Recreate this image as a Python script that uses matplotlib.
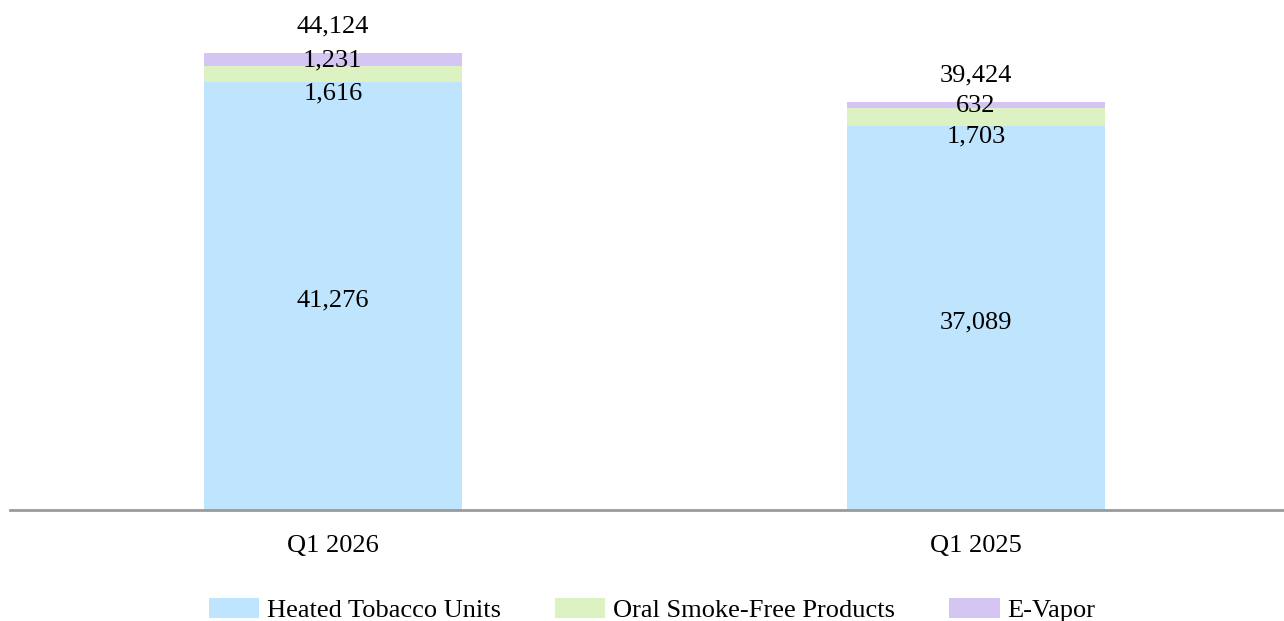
import matplotlib
matplotlib.use("Agg")
import matplotlib.pyplot as plt
from matplotlib.patches import Patch

# data
periods = ["Q1 2026", "Q1 2025"]
series = ["Heated Tobacco Units", "Oral Smoke-Free Products", "E-Vapor"]
heated = [41276, 37089]
oral = [1616, 1703]
vapor = [1231, 632]
totals = [44124, 39424]

colors = ["#BFE4FD", "#DDF2C3", "#D5C5F3"]

plt.rcParams["font.family"] = ["Liberation Serif", "DejaVu Serif"]
FS = 19

fig = plt.figure(figsize=(12.84, 6.21), dpi=100)
W, H = 1284, 621
ax = fig.add_axes([10 / W, (H - 510) / H, 1 - 10 / W, 510 / H])

x = [0, 1]
width = 0.401
ax.bar(x, heated, width, color=colors[0])
ax.bar(x, oral, width, bottom=heated, color=colors[1])
bottom2 = [h + o for h, o in zip(heated, oral)]
ax.bar(x, vapor, width, bottom=bottom2, color=colors[2])

for i in x:
    ax.annotate(f"{heated[i]:,}", (i, heated[i] / 2), xytext=(0, -3),
                textcoords="offset points", ha="center", va="center", fontsize=FS)
    # small segments: labels nudged so they do not overlap
    ax.annotate(f"{oral[i]:,}", (i, heated[i] + oral[i] / 2), xytext=(0, -14),
                textcoords="offset points", ha="center", va="center", fontsize=FS)
    ax.annotate(f"{vapor[i]:,}", (i, bottom2[i] + vapor[i] / 2), xytext=(0, -1),
                textcoords="offset points", ha="center", va="center", fontsize=FS)
    ax.annotate(f"{totals[i]:,}", (i, totals[i]), xytext=(0, 19),
                textcoords="offset points", ha="center", va="center", fontsize=FS)

ax.set_xlim(-0.502, 1.479)
ax.set_ylim(0, 44124 * 510 / 457)
ax.set_xticks(x)
ax.set_xticklabels(periods, fontsize=FS)
ax.tick_params(axis="x", length=0, pad=18)
ax.set_yticks([])
for s in ["top", "right", "left"]:
    ax.spines[s].set_visible(False)
ax.spines["bottom"].set_color("#9a9a9a")
ax.spines["bottom"].set_linewidth(2)

handles = [Patch(facecolor=c, edgecolor="none", label=l) for c, l in zip(colors, series)]
fig.legend(handles=handles, loc="center", bbox_to_anchor=(0.508, 0.018), ncol=3,
           frameon=False, fontsize=FS, handlelength=1.9, handleheight=0.8,
           handletextpad=0.3, columnspacing=2.05)

fig.savefig("out.png", dpi=100)
